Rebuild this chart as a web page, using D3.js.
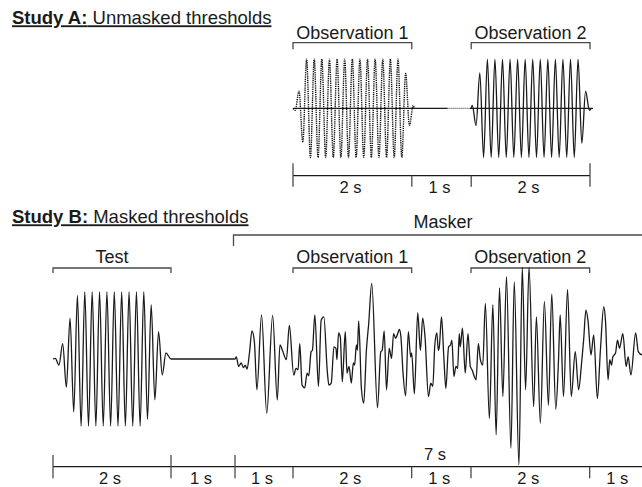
<!DOCTYPE html>
<html><head><meta charset="utf-8">
<script src="https://cdn.jsdelivr.net/npm/d3@7"></script>
<style>
body{margin:0;background:#fff}
svg{display:block;font-family:"Liberation Sans",Arial,sans-serif}
</style>
</head><body>
<svg id="c" width="642" height="487"></svg>
<script>
// ---------- DATA ----------
// Study A: tone extrema (% of full amplitude) at equally spaced half-periods
const toneA1 = {on:0, off:2.04, first:0.037, dt:0.0641,
  peaks:[-4,35,-69,100,-100,100,-100,100,-100,100,-100,100,-100,100,-100,100,-100,100,-100,100,-100,100,-100,100,-100,100,-100,100,-100,71,-35,6]};
const toneA2 = {on:3.0, off:5.02, first:3.018, dt:0.0636,
  peaks:[6,-35,72,-100,100,-100,100,-100,100,-100,100,-100,100,-100,100,-100,100,-100,100,-100,100,-100,100,-100,100,-100,100,-100,100,-71,35,-4]};
// Study B: test tone
const toneTest = {on:0, off:2.0, first:0.039, dt:0.0625,
  peaks:[1,-9,23,-42,61,-79,95,-100,100,-100,100,-100,100,-100,100,-100,100,-100,100,-100,100,-100,100,-100,100,-90,81,-61,41,-24,9]};
// Study B: masker noise (ms after masker onset, amplitude in % of test tone)
const maskerStart = 3;
const maskerMs = [0,22,63,107,147,175,208,249,293,334,378,458,547,649,729,775,822,886,937,1012,1051,1085,1114,1153,1198,1237,1266,1305,1327,1368,1429,1475,1520,1576,1605,1644,1690,1724,1741,1768,1797,1831,1881,1910,1944,1983,2017,2039,2068,2085,2107,2153,2192,2237,2276,2327,2424,2480,2503,2537,2576,2622,2661,2695,2729,2758,2792,2819,2853,2898,2944,2983,3000,3046,3102,3147,3186,3225,3283,3322,3356,3390,3424,3449,3466,3503,3542,3576,3622,3656,3678,3712,3746,3775,3802,3819,3856,3903,3949,3988,4017,4056,4085,4124,4158,4198,4242,4310,4368,4424,4480,4537,4598,4673,4729,4808,4864,4920,4978,5056,5102,5169,5237,5305,5361,5429,5475,5503,5559,5627,5690,5757,5814,5859,5898,5937,5971,6022,6068,6130,6181,6237,6266,6310,6339,6368,6390,6436,6469,6503,6559,6615,6649,6695,6775,6819,6886,6966];
const maskerAmp = [0,3,-11,-6,-13,-9,-15,9,42,26,-46,66,-81,65,-61,21,12,-1,50,-24,-14,-16,23,-39,-43,-21,-25,11,13,66,-41,58,63,-16,-39,-36,18,16,-1,39,33,-34,41,-21,-11,-36,-6,-9,21,13,57,-44,-66,13,53,113,-73,11,13,42,-46,16,1,38,31,36,44,33,-19,-55,41,3,9,-52,69,13,61,33,-56,-36,-41,21,39,13,18,63,3,-44,18,21,28,-26,-11,-14,38,18,46,-21,38,-11,-16,-26,-31,23,-1,-9,83,-89,81,-113,106,-56,123,-133,115,-158,137,-46,137,-71,63,-96,86,-69,97,-75,-1,66,-56,104,-56,11,-46,-11,28,73,58,6,36,-59,13,78,58,-31,-1,-9,3,9,28,16,38,-11,3,-24,39,11,6,10];

// Brackets and durations
const bracketsA = [{label:"Observation 1", from:0, to:2}, {label:"Observation 2", from:3, to:5}];
const bracketsB = [{label:"Test", from:0, to:2}, {label:"Observation 1", from:4, to:6}, {label:"Observation 2", from:7, to:9}];
const maskerSpan = {label:"Masker", from:3, to:10};
const boundsA = [0,2,3,5];
const majorA = [0,5];
const durLabelsA = ["2 s","1 s","2 s"];
const boundsB = [0,2,3,4,6,7,9,10];
const majorB = [0,2,3];
const durLabelsB = ["2 s","1 s","1 s","2 s","1 s","2 s","1 s"];
const maskerDurLabel = "7 s";
const titleA = ["Study A:", " Unmasked thresholds"];
const titleB = ["Study B:", " Masked thresholds"];

// ---------- SCALES ----------
const svg = d3.select("#c");
const xA = d3.scaleLinear().domain([0,5]).range([293,590]);
const yA = d3.scaleLinear().domain([-100,100]).range([157.5,59.1]);
const xB = d3.scaleLinear().domain([0,2,3,4,10]).range([53,171,235,293,649]);
const yB = d3.scaleLinear().domain([-100,100]).range([426,292]);

const INK = "#1a1a1a", GREY = "#4a4a4a";

function tonePts(tone){
  const p = [{t:tone.on, v:0}];
  tone.peaks.forEach((v,i)=>p.push({t:tone.first + i*tone.dt, v}));
  p.push({t:tone.off, v:0});
  return p;
}

// ---------- TITLES ----------
function title(parts, y){
  const t = svg.append("text").attr("x",12).attr("y",y)
    .attr("font-size",18.5).attr("fill",INK).attr("text-decoration","underline");
  t.append("tspan").attr("font-weight","bold").text(parts[0]);
  t.append("tspan").text(parts[1]);
}
title(titleA, 24.3);
title(titleB, 223.3);

// ---------- BRACKETS ----------
function brackets(list, x, yLine, tick, yText){
  list.forEach(b=>{
    const x0 = x(b.from), x1 = x(b.to);
    svg.append("path").attr("d",`M${x0},${yLine+tick}V${yLine}H${x1}V${yLine+tick}`)
      .attr("fill","none").attr("stroke",GREY).attr("stroke-width",1.3);
    svg.append("text").attr("x",(x0+x1)/2).attr("y",yText).attr("text-anchor","middle")
      .attr("font-size",18).attr("fill",INK).text(b.label);
  });
}
brackets(bracketsA, xA, 42.7, 6.5, 39.3);
brackets(bracketsB, xB, 268, 5, 263.3);
// masker bracket (open to the right)
svg.append("path").attr("d",`M${xB(maskerSpan.from)-1.5},246V235H${xB(maskerSpan.to)+5}`)
  .attr("fill","none").attr("stroke",GREY).attr("stroke-width",1.3);
svg.append("text").attr("x",(xB(maskerSpan.from)+xB(maskerSpan.to))/2+1).attr("y",228.3)
  .attr("text-anchor","middle").attr("font-size",18).attr("fill",INK).text(maskerSpan.label);

// ---------- STUDY A WAVEFORMS ----------
const lineA = d3.line().x(d=>xA(d.t)).y(d=>yA(d.v)).curve(d3.curveMonotoneX);
// baseline
const baseA = svg.append("g").attr("stroke",INK).attr("stroke-width",1.2);
baseA.append("line").attr("x1",xA(0)).attr("x2",xA(2.6)).attr("y1",yA(0)).attr("y2",yA(0));
baseA.append("line").attr("x1",xA(2.6)).attr("x2",xA(2.98)).attr("y1",yA(0)).attr("y2",yA(0))
  .attr("stroke-dasharray","1,1").attr("stroke-width",1);
baseA.append("line").attr("x1",xA(2.98)).attr("x2",xA(5.05)).attr("y1",yA(0)).attr("y2",yA(0));
svg.append("path").attr("d",lineA(tonePts(toneA1))).attr("fill","none")
  .attr("stroke","#111").attr("stroke-width",1.4).attr("stroke-dasharray","1.3,0.9");
svg.append("path").attr("d",lineA(tonePts(toneA2))).attr("fill","none")
  .attr("stroke",INK).attr("stroke-width",1.3);

// ---------- STUDY B WAVEFORM ----------
const lineB = d3.line().x(d=>xB(d.t)).y(d=>yB(d.v)).curve(d3.curveMonotoneX);
const sigB = tonePts(toneTest).concat(maskerMs.map((ms,i)=>({t:maskerStart+ms/1000, v:maskerAmp[i]})));
svg.append("path").attr("d",lineB(sigB)).attr("fill","none")
  .attr("stroke",INK).attr("stroke-width",1.3).attr("stroke-linejoin","round");

// ---------- DURATION AXES ----------
function durAxis(x, bounds, major, labels, yLine, upLen, downLen, yText, xEnd){
  svg.append("line").attr("x1",x(bounds[0])).attr("x2",xEnd).attr("y1",yLine).attr("y2",yLine)
    .attr("stroke",INK).attr("stroke-width",1.2);
  bounds.forEach(b=>{
    const isMajor = major.includes(b);
    svg.append("line").attr("x1",x(b)).attr("x2",x(b))
      .attr("y1",isMajor ? yLine-upLen : yLine).attr("y2",yLine+downLen)
      .attr("stroke",GREY).attr("stroke-width",1.3);
  });
  labels.forEach((l,i)=>{
    svg.append("text").attr("x",(x(bounds[i])+x(bounds[i+1]))/2 - 2).attr("y",yText)
      .attr("text-anchor","middle").attr("font-size",16.5).attr("fill",INK).text(l);
  });
}
durAxis(xA, boundsA, majorA, durLabelsA, 175.7, 12.4, 11, 193.3, xA(5));
durAxis(xB, boundsB, majorB, durLabelsB, 466.7, 11.7, 11.6, 484.3, 650);
svg.append("text").attr("x",(xB(maskerSpan.from)+xB(maskerSpan.to))/2 - 7).attr("y",460)
  .attr("text-anchor","middle").attr("font-size",16.5).attr("fill",INK).text(maskerDurLabel);
</script>
</body></html>
